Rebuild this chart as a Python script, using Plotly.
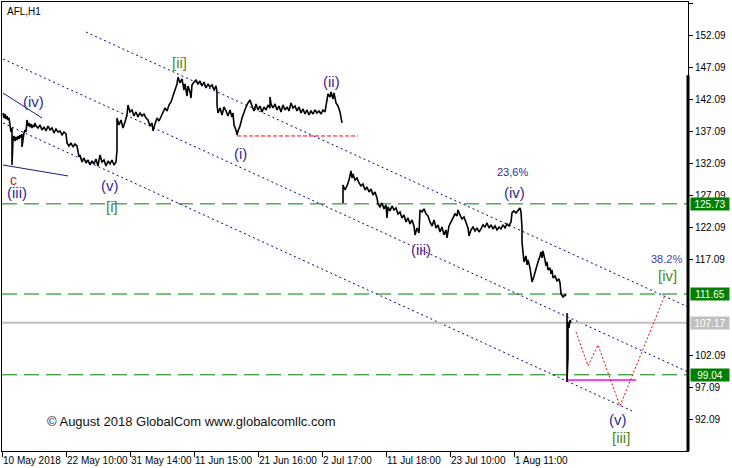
import plotly.graph_objects as go

# ---------------- data (bar index, price) ----------------
# price path of AFL H1 bars; None marks a gap
bar_idx = [1,2,3,4,5,6,7,8,9,10,10,11,12,13,14,15,16,17,18,19,20,20,21,22,23,24,25,26,27,28,29,30,31,32,33,34,
           36,38,40,42,44,46,48,50,52,54,56,58,60,62,64,65,67,69,71,73,75,76,77,78,80,82,84,86,88,90,92,94,96,98,
           100,102,104,106,108,110,112,114,115,115,117,119,121,123,125,126,128,130,132,134,136,138,140,142,144,146,
           148,150,151,153,155,157,159,161,163,165,167,169,171,173,175,176,178,180,182,183,185,186,188,189,190,192,
           194,196,198,200,202,204,206,208,210,212,214,215,215,216,218,220,222,224,226,228,230,231,232,234,235,236,
           238,240,242,244,246,248,250,252,254,256,258,260,262,264,266,268,268,269,271,273,275,277,279,281,283,285,
           287,289,291,293,295,297,299,301,303,305,307,309,311,313,315,317,319,321,323,325,326,328,329,331,332,334,
           336,338,340,None,
           341,341,343,345,347,348,349,350,351,353,355,357,359,361,363,365,367,369,371,373,375,376,378,380,382,384,
           385,386,388,390,392,394,396,398,400,402,404,406,408,410,412,413,415,417,418,420,422,424,426,428,430,432,
           434,436,438,440,442,444,445,447,449,451,453,455,456,458,460,462,464,466,467,469,471,473,475,477,479,481,
           483,485,487,489,491,493,495,497,499,501,503,505,507,509,510,512,514,516,518,519,520,520,521,522,524,525,
           526,528,529,530,532,534,536,538,539,540,541,543,544,545,546,548,549,550,551,553,555,557,558,559,561,563,
           564,None,
           565,565,566,566,567,568,569]
price = [139.92,139.14,139.76,138.98,139.45,138.83,139.14,137.74,136.95,137.58,131.80,135.71,136.33,135.55,136.17,
         135.71,136.33,135.86,136.49,136.02,136.64,134.61,136.02,136.80,137.27,136.95,138.83,137.89,138.36,137.74,
         138.20,137.58,138.05,137.74,138.36,137.89,
         137.58,138.05,137.27,137.74,137.11,137.89,137.27,137.58,136.80,137.42,136.95,137.11,136.49,136.95,136.64,
         135.24,134.77,135.24,134.61,135.08,134.77,133.83,133.05,133.37,132.27,132.90,132.12,132.58,131.80,132.43,
         131.96,132.74,131.65,133.37,
         132.27,132.58,131.65,132.43,131.96,132.58,131.80,132.27,134.15,139.14,138.05,138.83,137.58,138.52,139.61,
         141.17,140.08,140.39,139.45,140.08,139.30,139.92,139.45,139.76,139.14,138.83,
         137.89,138.36,137.11,138.20,139.14,138.67,139.45,139.92,140.70,140.23,141.17,141.64,142.57,143.51,144.45,
         145.54,144.60,145.23,143.51,144.45,142.57,144.14,143.20,142.26,144.29,144.76,
         145.07,144.45,144.92,144.14,144.76,143.82,144.45,143.98,144.29,143.51,144.14,143.20,141.17,139.92,140.70,
         139.61,140.86,140.23,139.45,140.39,139.30,139.92,138.05,137.27,136.49,137.11,
         137.89,139.14,140.08,140.86,141.48,141.95,141.01,140.23,141.33,140.39,141.01,140.08,140.86,140.39,141.17,
         140.70,142.42,141.33,140.70,141.33,140.39,141.01,140.08,141.17,140.39,140.86,
         140.23,141.48,140.70,141.01,140.23,140.86,139.92,140.55,139.76,140.39,139.61,140.23,139.76,140.39,139.92,
         140.23,139.76,140.39,140.08,141.95,142.89,142.42,143.20,142.11,143.04,141.48,
         141.01,140.08,138.36,None,
         125.87,128.68,127.90,128.53,129.46,130.09,130.87,129.77,130.40,129.46,129.77,128.99,128.53,128.84,127.90,
         128.37,127.59,128.06,127.12,127.59,126.65,125.72,125.25,125.87,124.94,125.56,
         123.53,125.25,124.63,125.40,124.78,125.09,124.16,124.47,123.53,124.00,122.91,123.53,122.59,123.22,122.28,
         120.88,121.97,121.19,124.78,124.47,124.94,124.16,123.84,122.91,122.28,123.22,
         121.97,122.44,121.34,122.12,120.88,121.66,120.41,122.28,122.91,123.53,124.16,123.84,124.78,124.00,123.37,
         123.69,122.91,121.97,120.72,121.66,122.12,121.50,121.97,121.34,121.81,
         122.44,122.12,122.75,121.97,122.44,121.81,122.28,121.66,122.12,121.81,122.44,121.97,122.59,122.28,122.91,
         124.31,124.63,124.31,124.78,125.09,124.47,121.97,119.78,117.75,116.66,117.60,116.19,
         116.97,115.73,114.63,113.54,114.48,115.73,116.66,117.60,118.22,117.29,118.38,116.97,116.04,116.66,115.41,
         115.73,114.79,115.41,114.16,114.48,113.70,114.01,113.38,111.67,111.20,111.51,
         111.36,None,
         108.70,97.93,101.83,107.30,106.36,107.61,107.17]

# channel lines (start/end bar, start/end price)
chan_bars = [[84, 686], [1, 686], [1, 630]]
chan_prices = [[152.56, 109.64], [148.35, 99.49], [138.36, 93.40]]
# solid trend lines (upper left)
trend_bars = [[1, 40], [1, 66]]
trend_prices = [[143.04, 139.14], [131.80, 130.09]]
# red dashed support under (i)
support_bars = [235, 356]
support_price = 136.33
# horizontal levels
green_levels = [125.73, 111.65, 99.04]
current_price = 107.17
magenta_bars = [565, 634]
magenta_price = 98.24
# forecast path
fc_bars = [574, 586, 596, 618, 663]
fc_prices = [105.73, 100.43, 103.70, 94.18, 111.51]

# axes
x_tick_bars = [0, 64, 128, 192, 256, 320, 384, 448, 512]
x_tick_labels = ["10 May 2018", "22 May 10:00", "31 May 14:00", "11 Jun 15:00", "21 Jun 16:00",
                 "2 Jul 17:00", "11 Jul 18:00", "23 Jul 10:00", "1 Aug 11:00"]
y_tick_vals = [157.09, 152.09, 147.09, 142.09, 137.09, 132.09, 127.09, 122.09, 117.09, 102.09, 97.09, 92.09]

# wave labels: (text, bar, price, colour, size)
BLUE = "#2b2b9b"
PURPLE = "#55208f"
GREEN = "#4a8a1e"
wave_labels = [
    ("(iv)", 31, 141.79, BLUE, 15), ("c", 11, 129.46, "#b03020", 14), ("(iii)", 15, 127.43, BLUE, 15),
    ("(v)", 108, 128.53, BLUE, 15), ("[i]", 110, 125.25, GREEN, 15), ("[ii]", 177, 147.88, GREEN, 15),
    ("(i)", 238, 133.52, BLUE, 15), ("(ii)", 329, 144.76, PURPLE, 15), ("23,6%", 510, 130.71, BLUE, 11),
    ("(iv)", 512, 127.43, BLUE, 15), ("(iii)", 419, 118.53, PURPLE, 15), ("38.2%", 664, 117.13, "#3b3bbf", 11),
    ("[iv]", 665, 114.48, GREEN, 15), ("(v)", 616, 92.00, BLUE, 15), ("[iii]", 619, 89.19, GREEN, 15),
]

FONT = "Liberation Sans, Arial, sans-serif"

fig = go.Figure()

for xb, yp in zip(chan_bars, chan_prices):
    fig.add_trace(go.Scatter(x=xb, y=yp, mode="lines", line=dict(color="#000080", width=1, dash="2px,3px"),
                             hoverinfo="skip", showlegend=False))
for xb, yp in zip(trend_bars, trend_prices):
    fig.add_trace(go.Scatter(x=xb, y=yp, mode="lines", line=dict(color="#1a1a80", width=1),
                             hoverinfo="skip", showlegend=False))

for lv in green_levels:
    fig.add_trace(go.Scatter(x=[0, 686], y=[lv, lv], mode="lines",
                             line=dict(color="#008000", width=1, dash="15px,7px"),
                             hoverinfo="skip", showlegend=False))
fig.add_trace(go.Scatter(x=[0, 686], y=[current_price, current_price], mode="lines",
                         line=dict(color="#c0c0c0", width=2), hoverinfo="skip", showlegend=False))
fig.add_trace(go.Scatter(x=support_bars, y=[support_price, support_price], mode="lines",
                         line=dict(color="#ff0000", width=1, dash="4px,2px"), hoverinfo="skip", showlegend=False))
fig.add_trace(go.Scatter(x=magenta_bars, y=[magenta_price, magenta_price], mode="lines",
                         line=dict(color="#ff00ff", width=1.5), hoverinfo="skip", showlegend=False))
fig.add_trace(go.Scatter(x=fc_bars, y=fc_prices, mode="lines",
                         line=dict(color="#ff0000", width=1, dash="2px,2px"), hoverinfo="skip", showlegend=False))

fig.add_trace(go.Scatter(x=bar_idx, y=price, mode="lines", line=dict(color="black", width=1.6),
                         connectgaps=False, hoverinfo="skip", showlegend=False))

for txt, xb, yp, col, sz in wave_labels:
    fig.add_annotation(x=xb, y=yp, text=txt, showarrow=False, xref="x", yref="y",
                       font=dict(family=FONT, size=sz, color=col), xanchor="center", yanchor="middle")

fig.add_annotation(x=43, y=91.69, text="© August 2018 GlobalCom www.globalcomllc.com", showarrow=False,
                   xref="x", yref="y", xanchor="left", yanchor="middle",
                   font=dict(family=FONT, size=13, color="#111111"))
fig.add_annotation(x=0, y=1, xref="paper", yref="paper", text="AFL,H1", showarrow=False,
                   xanchor="left", yanchor="top", xshift=3, yshift=-2,
                   font=dict(family=FONT, size=10, color="black"))

# price boxes on the right axis
for lv, bg in [(125.73, "#008000"), (111.65, "#008000"), (current_price, "#c0c0c0"), (99.04, "#008000")]:
    fig.add_annotation(x=1, y=lv, xref="paper", yref="y", text=f"{lv:.2f}", showarrow=False,
                       xanchor="left", yanchor="middle", xshift=2, width=38, height=12, bgcolor=bg,
                       borderpad=0, font=dict(family=FONT, size=10, color="white"))

# thick marker on right border
fig.add_shape(type="line", xref="paper", yref="paper", x0=1, x1=1, y0=0, y1=0.837,
              line=dict(color="black", width=3))

fig.update_layout(
    width=732, height=468, margin=dict(l=2, r=44, t=2, b=17, autoexpand=False),
    paper_bgcolor="white", plot_bgcolor="white",
    font=dict(family=FONT, size=10, color="black"),
    xaxis=dict(range=[0, 686], tickvals=x_tick_bars, ticktext=x_tick_labels, ticks="outside", ticklen=5,
               tickcolor="black", showgrid=False, zeroline=False, showline=True, linecolor="black",
               linewidth=1, mirror=True, ticklabelposition="outside right", tickangle=0, automargin=False,
               tickfont=dict(family=FONT, size=10, color="black")),
    yaxis=dict(range=[87.14, 157.25], side="right", tickvals=y_tick_vals, automargin=False,
               ticktext=[f"{v:.2f}" for v in y_tick_vals], ticks="outside", ticklen=4, tickcolor="black",
               showgrid=False, zeroline=False, showline=True, linecolor="black", linewidth=1, mirror=True,
               tickfont=dict(family=FONT, size=10, color="black")),
)

fig.write_html("out.html", config={"displayModeBar": False},
               post_script="document.body.style.margin='0';document.body.style.overflow='hidden';")
